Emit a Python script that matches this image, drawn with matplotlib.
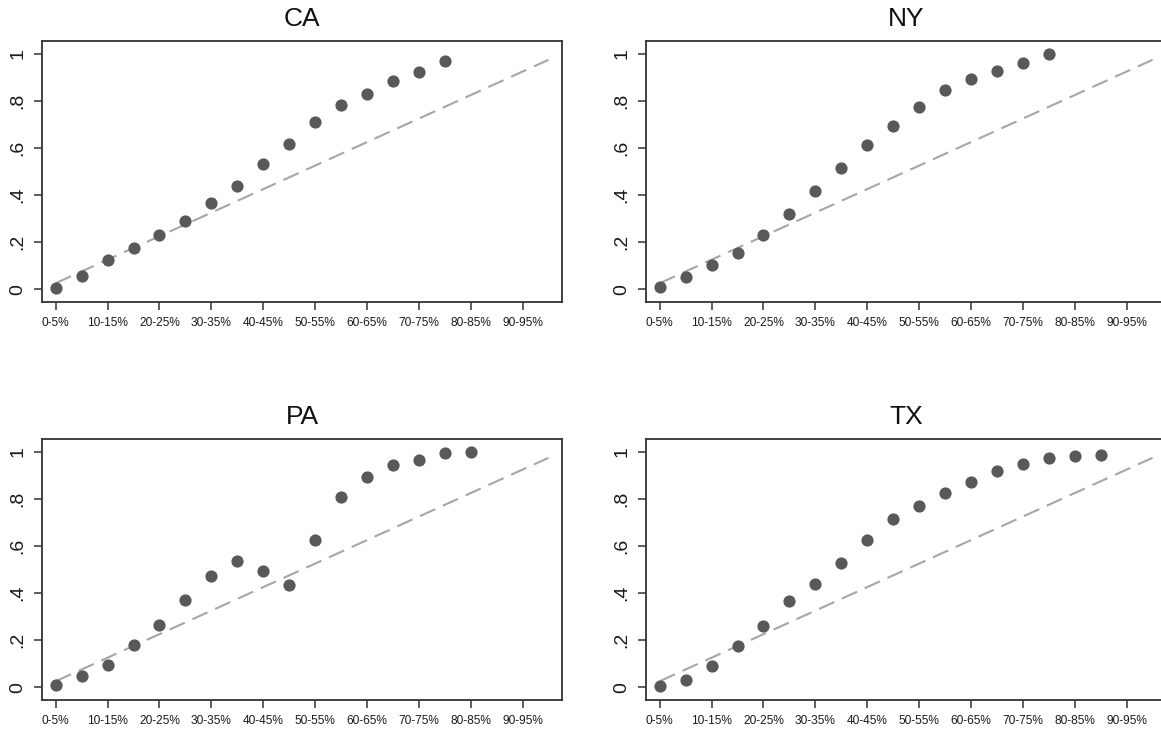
import matplotlib
matplotlib.use('Agg')
import matplotlib.pyplot as plt

plt.rcParams['font.family'] = ['Liberation Sans', 'DejaVu Sans']

# income bins, 5 point wide
BINS = ['%d-%d%%' % (lo, lo + 5) for lo in range(0, 100, 5)]

ca_share = [0.006, 0.054, 0.125, 0.176, 0.232, 0.290, 0.364, 0.440,
            0.533, 0.618, 0.710, 0.784, 0.828, 0.885, 0.922, 0.969]
ny_share = [0.007, 0.053, 0.102, 0.155, 0.232, 0.321, 0.419, 0.516,
            0.611, 0.695, 0.774, 0.845, 0.895, 0.929, 0.960, 1.000]
pa_share = [0.009, 0.046, 0.095, 0.179, 0.265, 0.370, 0.471, 0.535,
            0.494, 0.432, 0.627, 0.807, 0.893, 0.946, 0.967, 0.996, 1.000]
tx_share = [0.003, 0.031, 0.088, 0.175, 0.259, 0.366, 0.437, 0.528,
            0.624, 0.713, 0.772, 0.826, 0.871, 0.919, 0.950, 0.974,
            0.984, 0.989]

# 45 degree reference, bin midpoints
ref_x = [1, 20]
ref_y = [0.025, 0.975]

YTICKS = [0, 0.2, 0.4, 0.6, 0.8, 1]
YLABELS = ['0', '.2', '.4', '.6', '.8', '1']

panels = [('CA', ca_share), ('NY', ny_share), ('PA', pa_share), ('TX', tx_share)]

W, H = 1161, 733
fig = plt.figure(figsize=(W / 100, H / 100), dpi=100)
fig.patch.set_facecolor('white')

# left/bottom corners in pixels, boxes are 520 x 261
corners = [(42, 302), (646, 302), (42, 700), (646, 700)]
bw, bh = 520, 261

edge = '#333333'
for (name, share), (px, py) in zip(panels, corners):
    ax = fig.add_axes([px / W, 1 - py / H, bw / W, bh / H])
    xs = list(range(1, len(share) + 1))
    ax.plot(ref_x, ref_y, color='#a6a6a6', lw=1.5, dashes=(8, 4), zorder=1)
    ax.plot(xs, share, 'o', color='#595959', ms=8.8, mew=0, zorder=2)
    ax.set_xlim(0.47, 20.52)
    ax.set_ylim(-0.055, 1.055)
    ax.set_xticks(range(1, 21, 2))
    ax.set_xticklabels(BINS[::2], fontsize=8.6)
    ax.set_yticks(YTICKS)
    ax.set_yticklabels(YLABELS, fontsize=14, rotation=90, va='center')
    ax.tick_params(axis='both', colors=edge, length=6, width=1.1,
                   labelcolor='#1a1a1a')
    ax.tick_params(axis='y', pad=5)
    ax.tick_params(axis='x', pad=5)
    for s in ax.spines.values():
        s.set_color(edge)
        s.set_linewidth(1.3)
    ax.set_title(name, fontsize=19, pad=11, color='#111111')

fig.savefig('out.png', dpi=100, facecolor='white')
